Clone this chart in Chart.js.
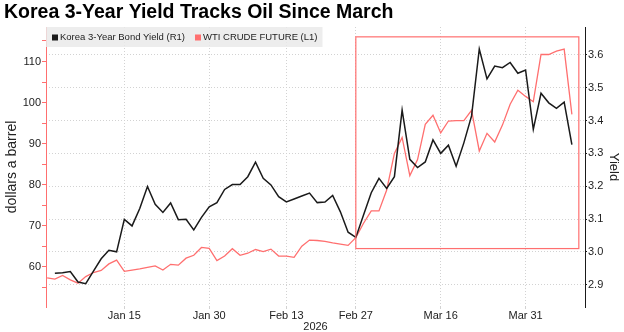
<!DOCTYPE html>
<html>
<head>
<meta charset="utf-8">
<title>Korea 3-Year Yield Tracks Oil Since March</title>
<script src="https://cdn.jsdelivr.net/npm/chart.js@4.4.1/dist/chart.umd.min.js"></script>
<style>
  html, body { margin: 0; padding: 0; background: #fff; }
  canvas { display: block; }
</style>
</head>
<body>
<canvas id="yieldChart" width="624" height="332"></canvas>
<script>
// Trading days, Dec 31 2025 to Apr 9 2026
const dates = [
    'Dec 31',
    'Jan 2', 'Jan 5', 'Jan 6', 'Jan 7', 'Jan 8', 'Jan 9', 'Jan 12', 'Jan 13', 'Jan 14', 'Jan 15',
    'Jan 16', 'Jan 19', 'Jan 20', 'Jan 21', 'Jan 22', 'Jan 23', 'Jan 26', 'Jan 27', 'Jan 28', 'Jan 29', 'Jan 30',
    'Feb 2', 'Feb 3', 'Feb 4', 'Feb 5', 'Feb 6', 'Feb 9', 'Feb 10', 'Feb 11', 'Feb 12', 'Feb 13',
    'Feb 17', 'Feb 18', 'Feb 19', 'Feb 20', 'Feb 23', 'Feb 24', 'Feb 25', 'Feb 26', 'Feb 27',
    'Mar 2', 'Mar 3', 'Mar 4', 'Mar 5', 'Mar 6', 'Mar 9', 'Mar 10', 'Mar 11', 'Mar 12', 'Mar 13', 'Mar 16',
    'Mar 17', 'Mar 18', 'Mar 19', 'Mar 20', 'Mar 23', 'Mar 24', 'Mar 25', 'Mar 26', 'Mar 27', 'Mar 30', 'Mar 31',
    'Apr 1', 'Apr 2', 'Apr 6', 'Apr 7', 'Apr 8', 'Apr 9'
];

// Korea 3-year bond yield, % (right axis)
const koreaYield = [
    null,
    2.935, 2.936, 2.940, 2.908, 2.903, 2.941, 2.979, 3.005, 3.000, 3.099,
    3.079, 3.132, 3.199, 3.145, 3.120, 3.149, 3.098, 3.099, 3.067, 3.105, 3.137,
    3.150, 3.190, 3.205, 3.205, 3.229, 3.273, 3.224, 3.204, 3.168, 3.152,
    3.161, 3.170, 3.179, 3.150, 3.152, 3.172, 3.122, 3.060, 3.044,
    3.112, 3.180, 3.224, 3.193, 3.229, 3.432, 3.282, 3.257, 3.274, 3.341, 3.300,
    3.325, 3.261, 3.332, 3.414, 3.618, 3.527, 3.566, 3.561, 3.577, 3.544, 3.554,
    3.373, 3.483, 3.454, 3.437, 3.456, 3.327
];

// WTI crude future, dollars a barrel (left axis)
const wtiCrude = [
    57.3,
    57.0, 57.9, 56.8, 56.0, 57.6, 58.6, 59.1, 60.7, 61.6, 58.9,
    59.2, 59.5, 59.85, 60.2, 59.2, 60.6, 60.4, 62.1, 62.8, 64.7, 64.5,
    61.5, 62.6, 64.4, 62.8, 63.3, 64.2, 63.7, 64.3, 62.6, 62.6,
    62.3, 65.0, 66.5, 66.4, 66.2, 65.8, 65.5, 65.2, 67.1,
    70.6, 73.6, 73.6, 78.7, 87.6, 91.5, 82.2, 86.1, 94.7, 96.9, 92.6,
    95.5, 95.6, 95.6, 98.1, 88.2, 92.5, 90.4, 94.5, 99.6, 103.0, 101.5,
    100.2, 111.7, 111.7, 112.5, 113.0, 97.1
];

const dateTicks = ['Jan 15', 'Jan 30', 'Feb 13', 'Feb 27', 'Mar 16', 'Mar 31'];
const oilTicks = [55, 60, 65, 70, 75, 80, 85, 90, 95, 100, 105, 110, 115];
const yieldTicks = [2.9, 3.0, 3.1, 3.2, 3.3, 3.4, 3.5, 3.6];

// box drawn round the March run-up, in yield terms
const highlightFrom = 'Feb 27';
const highlightYield = [3.01, 3.655];

const RED = '#ff6f6f';
const INK = '#1a1a1a';
const GRID = '#d2d2d2';
const FONT = '"Liberation Sans", Arial, sans-serif';

Chart.defaults.font.family = FONT;
Chart.defaults.color = '#222';

/**
 * Grey legend strip sitting inside the top-left of the plot
 */
const legendStrip = {
    id: 'legendStrip',
    afterDraw(chart) {
        const { ctx, chartArea } = chart;
        const items = chart.data.datasets.map(ds => ({ text: ds.label, color: ds.borderColor }));
        const sq = 6, pad = 6, gap = 2, spacing = 10, h = 20;

        ctx.save();
        ctx.font = '9.5px ' + FONT;
        let w = pad + 5 - spacing;
        items.forEach(it => {
            it.w = ctx.measureText(it.text).width;
            w += sq + gap + it.w + spacing;
        });
        ctx.fillStyle = 'rgba(234, 234, 234, 0.85)';
        ctx.fillRect(chartArea.left, chartArea.top, w, h);

        let x = chartArea.left + pad;
        const cy = chartArea.top + h / 2 + 0.5;
        ctx.textBaseline = 'middle';
        items.forEach(it => {
            ctx.fillStyle = it.color;
            ctx.fillRect(x, cy - sq / 2, sq, sq);
            x += sq + gap;
            ctx.fillStyle = '#222';
            ctx.fillText(it.text, x, cy);
            x += it.w + spacing;
        });
        ctx.restore();
    }
};

/**
 * Red outline round the stretch where yield follows oil
 */
const highlightBox = {
    id: 'highlightBox',
    afterDatasetsDraw(chart) {
        const { ctx, scales: { x, yYield } } = chart;
        const left = x.getPixelForValue(dates.indexOf(highlightFrom));
        const right = x.getPixelForValue(dates.length - 0.1);
        const top = yYield.getPixelForValue(highlightYield[1]);
        const bottom = yYield.getPixelForValue(highlightYield[0]);
        ctx.save();
        ctx.strokeStyle = RED;
        ctx.lineWidth = 1.2;
        ctx.strokeRect(left, top, right - left, bottom - top);
        ctx.restore();
    }
};

function initChart() {
    const ctx = document.getElementById('yieldChart').getContext('2d');
    new Chart(ctx, {
        type: 'line',
        data: {
            datasets: [{
                label: 'Korea 3-Year Bond Yield (R1)',
                data: koreaYield.map((v, i) => ({ x: i, y: v })),
                yAxisID: 'yYield',
                borderColor: INK,
                borderWidth: 1.5,
                pointRadius: 0,
                tension: 0
            }, {
                label: 'WTI CRUDE FUTURE (L1)',
                data: wtiCrude.map((v, i) => ({ x: i, y: v })),
                yAxisID: 'yOil',
                borderColor: RED,
                borderWidth: 1.3,
                pointRadius: 0,
                tension: 0
            }]
        },
        options: {
            responsive: false,
            animation: false,
            layout: { padding: { left: 4, right: 0, top: 0, bottom: 0 } },
            plugins: {
                legend: { display: false },
                tooltip: { enabled: false },
                title: {
                    display: true,
                    text: 'Korea 3-Year Yield Tracks Oil Since March',
                    align: 'start',
                    color: '#000',
                    font: { size: 19.5, weight: 'bold', lineHeight: 1.2 },
                    padding: { top: 1, bottom: 2.6 }
                }
            },
            scales: {
                x: {
                    type: 'linear',
                    min: -0.15,
                    max: 69.7,
                    afterBuildTicks: scale => {
                        scale.ticks = dateTicks.map(d => ({ value: dates.indexOf(d) }));
                    },
                    afterFit: scale => { scale.height = 25; },
                    ticks: {
                        autoSkip: false,
                        maxRotation: 0,
                        padding: 0,
                        font: { size: 11 },
                        callback: v => dates[v]
                    },
                    grid: { color: GRID, tickLength: 2 },
                    border: { display: false, dash: [1, 2] },
                    title: {
                        display: true,
                        text: '2026',
                        font: { size: 11, lineHeight: 1 },
                        padding: 0
                    }
                },
                yOil: {
                    position: 'left',
                    min: 50.2,
                    max: 118.4,
                    afterBuildTicks: scale => {
                        scale.ticks = oilTicks.map(v => ({ value: v }));
                    },
                    afterFit: scale => { scale.width = 42; },
                    ticks: {
                        autoSkip: false,
                        padding: 1,
                        font: { size: 11 },
                        callback: v => (v % 10 === 0 ? v : '')
                    },
                    grid: { drawOnChartArea: false, color: RED, tickLength: 4 },
                    border: { color: RED },
                    title: {
                        display: true,
                        text: 'dollars a barrel',
                        font: { size: 14 },
                        padding: 0
                    }
                },
                yYield: {
                    position: 'right',
                    min: 2.832,
                    max: 3.685,
                    afterBuildTicks: scale => {
                        scale.ticks = yieldTicks.map(v => ({ value: v }));
                    },
                    afterFit: scale => { scale.width = 39; },
                    ticks: {
                        autoSkip: false,
                        padding: 1,
                        font: { size: 11 },
                        callback: v => v.toFixed(1)
                    },
                    grid: { color: GRID, tickColor: INK, tickLength: 2 },
                    border: { color: INK, dash: [1, 2] },
                    title: {
                        display: true,
                        text: 'Yield',
                        font: { size: 13 },
                        padding: { top: 3, bottom: 0 }
                    }
                }
            }
        },
        plugins: [highlightBox, legendStrip]
    });
}

document.addEventListener('DOMContentLoaded', initChart);
</script>
</body>
</html>
